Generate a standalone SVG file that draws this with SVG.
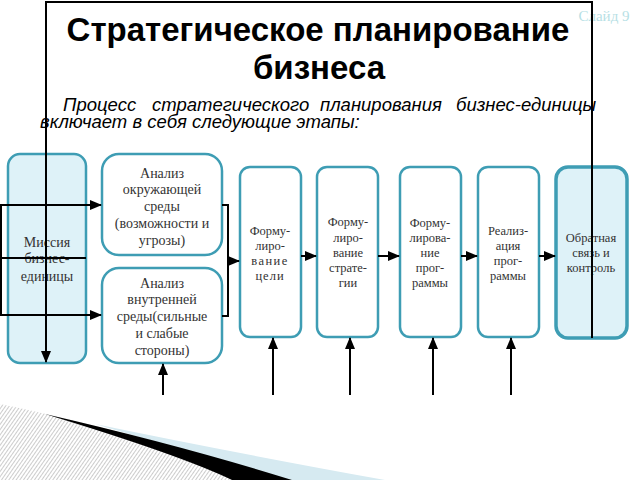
<svg xmlns="http://www.w3.org/2000/svg" width="640" height="480" viewBox="0 0 640 480">
<defs>
<marker id="ah" markerWidth="12" markerHeight="10" refX="11" refY="5" orient="auto" markerUnits="userSpaceOnUse">
<path d="M0,0 L12,5 L0,10 Z" fill="#000"/>
</marker>
<pattern id="hatch" width="3" height="3" patternUnits="userSpaceOnUse" patternTransform="rotate(35)">
<rect width="3" height="3" fill="#fff"/>
<line x1="0" y1="0" x2="0" y2="3" stroke="#9a9a9a" stroke-width="1"/>
</pattern>
<style>
.box{fill:#fff;stroke:#3e9db4;stroke-width:2.5}
.lb{fill:#def2f8}
.fb{stroke-width:3.5}
.t{font-family:"Liberation Serif","DejaVu Serif",serif;font-size:14px;fill:#333;text-anchor:middle}
.s{font-family:"Liberation Serif","DejaVu Serif",serif;font-size:12.5px}
.c{stroke:#000;stroke-width:2;fill:none}
.h{font-family:"Liberation Sans",Arial,sans-serif;font-weight:bold;font-size:33px;fill:#000;text-anchor:middle}
.p{font-family:"Liberation Sans",Arial,sans-serif;font-style:italic;font-size:18.5px;fill:#000}
</style>
</defs>
<rect width="640" height="480" fill="#fff"/>

<!-- decoration bottom-left -->
<path d="M0,404 Q60,416 120,433 Q220,460 290,480 L0,480 Z" fill="url(#hatch)"/>
<path d="M95,424 Q230,452 385,480 L285,480 Q200,455 95,424 Z" fill="#d6eaf1"/>
<path d="M45,414 Q180,445 292,480 L232,480 Q180,455 45,414 Z" fill="#000"/>

<text x="604" y="21" font-family="Liberation Serif,serif" font-size="15" fill="#b7dfe5" text-anchor="middle">Слайд 9</text>

<g id="title">
<text class="h" x="318" y="41">Стратегическое планирование</text>
<text class="h" x="319" y="79">бизнеса</text>
</g>
<g id="intro">
<text class="p" y="111"><tspan x="63">Процесс</tspan><tspan x="152">стратегического</tspan><tspan x="320">планирования</tspan><tspan x="456">бизнес-единицы</tspan></text>
<text class="p" x="40" y="128">включает в себя следующие этапы:</text>
</g>

<g id="mission">
<rect class="box lb" x="8" y="154" width="78" height="209" rx="12"/>
<text class="t"><tspan x="47" y="247">Миссия</tspan><tspan x="47" y="263">бизнес-</tspan><tspan x="47" y="281">единицы</tspan></text>
</g>
<g id="env">
<rect class="box" x="102" y="154" width="120" height="101" rx="17"/>
<text class="t"><tspan x="162" y="178">Анализ</tspan><tspan x="162" y="194">окружающей</tspan><tspan x="162" y="211">среды</tspan><tspan x="162" y="228">(возможности и</tspan><tspan x="162" y="245">угрозы)</tspan></text>
</g>
<g id="internal">
<rect class="box" x="102" y="268" width="120" height="95" rx="17"/>
<text class="t"><tspan x="162" y="288">Анализ</tspan><tspan x="162" y="304">внутренней</tspan><tspan x="162" y="321">среды(сильные</tspan><tspan x="162" y="338">и слабые</tspan><tspan x="162" y="355">стороны)</tspan></text>
</g>
<g id="goal">
<rect class="box" x="240" y="167" width="61" height="170" rx="10"/>
<text class="t s"><tspan x="270" y="235">Форму-</tspan><tspan x="270" y="250">лиро-</tspan><tspan x="270" y="265" letter-spacing="1.5">вание</tspan><tspan x="270" y="280" letter-spacing="1">цели</tspan></text>
</g>
<g id="strategy">
<rect class="box" x="317" y="167" width="61" height="170" rx="10"/>
<text class="t s"><tspan x="348" y="226">Форму-</tspan><tspan x="348" y="242">лиро-</tspan><tspan x="348" y="257">вание</tspan><tspan x="348" y="272">страте-</tspan><tspan x="348" y="287">гии</tspan></text>
</g>
<g id="program">
<rect class="box" x="400" y="167" width="61" height="170" rx="10"/>
<text class="t s"><tspan x="430" y="227">Форму-</tspan><tspan x="430" y="242">лирова-</tspan><tspan x="430" y="257">ние</tspan><tspan x="430" y="272">прог-</tspan><tspan x="430" y="287">раммы</tspan></text>
</g>
<g id="implement">
<rect class="box" x="478" y="167" width="61" height="170" rx="10"/>
<text class="t s"><tspan x="508" y="235">Реализ-</tspan><tspan x="508" y="250">ация</tspan><tspan x="508" y="265">прог-</tspan><tspan x="508" y="280">раммы</tspan></text>
</g>
<g id="feedback">
<rect class="box lb fb" x="556" y="167" width="71" height="171" rx="12"/>
<text class="t s"><tspan x="591" y="242">Обратная</tspan><tspan x="591" y="257">связь и</tspan><tspan x="591" y="272">контроль</tspan></text>
</g>

<g id="connectors">
<path class="c" d="M592,338 V2 H46 V362" marker-end="url(#ah)"/>
<path class="c" d="M1,205 V315"/>
<path class="c" d="M0,258 H86"/>
<path class="c" d="M0,205 H101" marker-end="url(#ah)"/>
<path class="c" d="M0,315 H101" marker-end="url(#ah)"/>
<path class="c" d="M222,205 H228 V316 H222"/>
<path class="c" d="M228,261 H239" marker-end="url(#ah)"/>
<path class="c" d="M301,256 H316" marker-end="url(#ah)"/>
<path class="c" d="M378,256 H399" marker-end="url(#ah)"/>
<path class="c" d="M461,256 H477" marker-end="url(#ah)"/>
<path class="c" d="M539,256 H555" marker-end="url(#ah)"/>
<path class="c" d="M163,395 V364" marker-end="url(#ah)"/>
<path class="c" d="M273,395 V338" marker-end="url(#ah)"/>
<path class="c" d="M350,395 V338" marker-end="url(#ah)"/>
<path class="c" d="M433,395 V338" marker-end="url(#ah)"/>
<path class="c" d="M511,395 V338" marker-end="url(#ah)"/>
</g>
</svg>
